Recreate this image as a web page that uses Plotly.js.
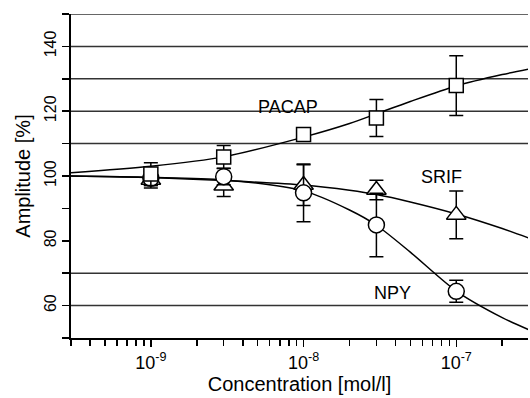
<!DOCTYPE html>
<html>
<head>
<meta charset="utf-8">
<script src="https://cdn.plot.ly/plotly-3.0.1.min.js"></script>
<style>html,body{margin:0;padding:0;background:#fff;}#chart{width:530px;height:398px;}</style>
</head>
<body>
<div id="chart"></div>
<script>
// Measured concentrations [mol/l]
const conc = [1e-9, 3e-9, 1e-8, 3e-8, 1e-7];
// Mean amplitudes [%] and error values
const pacap    = [100.6, 105.9, 112.8, 117.9, 127.9];
const pacapErr = [3.5, 3.5, 1.0, 5.7, 9.2];
const srif     = [98.8, 97.0, 97.2, 95.7, 88.0];
const srifErr  = [2.5, 3.3, 6.3, 3.0, 7.4];
const npy      = [99.3, 99.8, 94.8, 84.9, 64.4];
const npyErr   = [2.2, 2.5, 8.9, 9.8, 3.4];

// Fitted curves
const fitConc  = [3e-10, 1e-9, 3e-9, 1e-8, 2e-8, 3e-8, 5e-8, 1e-7, 2e-7, 3e-7];
const pacapFit = [101.0, 103.0, 105.9, 112.0, 116.2, 119.2, 123.0, 127.8, 131.3, 133.0];
const srifFit  = [100.0, 99.5, 98.6, 97.2, 95.6, 94.3, 92.0, 88.3, 83.8, 80.8];
const npyFit   = [100.0, 99.6, 98.8, 95.4, 89.5, 84.8, 76.5, 64.5, 56.3, 52.5];

// Axis ticks
const yTickVals  = [60, 80, 100, 120, 140];
const yTickText  = ['60', '80', '100', '120', '140'];
const yMinorVals = [50, 70, 90, 110, 130, 150];
const gridVals   = [60, 70, 110, 120, 130, 140, 150];
const xTickVals  = [1e-9, 1e-8, 1e-7];
const xTickText  = ['10<sup>-9</sup>', '10<sup>-8</sup>', '10<sup>-7</sup>'];
const xMinorVals = [3e-10, 4e-10, 5e-10, 6e-10, 7e-10, 8e-10, 9e-10,
                    2e-9, 3e-9, 4e-9, 5e-9, 6e-9, 7e-9, 8e-9, 9e-9,
                    2e-8, 3e-8, 4e-8, 5e-8, 6e-8, 7e-8, 8e-8, 9e-8,
                    2e-7];

// Curve labels
const labels = [
  {text: 'PACAP', x: 7.9e-9, y: 121.3},
  {text: 'SRIF',  x: 8.0e-8, y: 99.7},
  {text: 'NPY',   x: 3.8e-8, y: 63.9}
];

const FONT = 'Liberation Sans, Arial, sans-serif';

function fitTrace(y) {
  return {x: fitConc, y: y, mode: 'lines', type: 'scatter', hoverinfo: 'skip',
          line: {color: '#000', width: 1.5, shape: 'spline', smoothing: 0.8}};
}
function dataTrace(y, err, symbol, size) {
  return {x: conc, y: y, mode: 'markers', type: 'scatter',
          marker: {symbol: symbol, size: size, color: '#fff', line: {color: '#000', width: 1.5}},
          error_y: {type: 'data', array: err, visible: true, color: '#000', thickness: 1.5, width: 7}};
}

const data = [
  fitTrace(pacapFit), fitTrace(srifFit), fitTrace(npyFit),
  dataTrace(srif, srifErr, 'triangle-up', 17),
  dataTrace(npy, npyErr, 'circle', 16),
  dataTrace(pacap, pacapErr, 'square', 14)
];

const layout = {
  width: 530, height: 398,
  margin: {l: 71, r: 2, t: 14, b: 60},
  paper_bgcolor: '#fff', plot_bgcolor: '#fff',
  showlegend: false,
  font: {family: FONT, color: '#000'},
  xaxis: {
    type: 'log', range: [Math.log10(3e-10), Math.log10(2.95e-7)],
    tickmode: 'array', tickvals: xTickVals, ticktext: xTickText,
    ticks: 'outside', ticklen: 7, tickwidth: 1.5, tickcolor: '#000',
    minor: {tickmode: 'array', tickvals: xMinorVals, ticks: 'outside', ticklen: 6, tickwidth: 1.5, tickcolor: '#000', showgrid: false},
    showline: true, linecolor: '#000', linewidth: 2,
    showgrid: false, zeroline: false,
    tickfont: {family: FONT, size: 18, color: '#000'},
    title: {text: 'Concentration [mol/l]', font: {family: FONT, size: 20, color: '#000'}, standoff: 4}
  },
  yaxis: {
    range: [50, 150],
    tickmode: 'array', tickvals: yTickVals, ticktext: yTickText,
    ticks: 'outside', ticklen: 7, tickwidth: 1.5, tickcolor: '#000',
    minor: {tickmode: 'array', tickvals: yMinorVals, ticks: 'outside', ticklen: 7, tickwidth: 1.5, tickcolor: '#000', showgrid: false},
    tickangle: -90,
    showline: true, linecolor: '#000', linewidth: 2,
    showgrid: false, zeroline: false,
    tickfont: {family: FONT, size: 16, color: '#000'},
    title: {text: 'Amplitude [%]', font: {family: FONT, size: 20, color: '#000'}, standoff: 6}
  },
  shapes: gridVals.map(v => ({
    type: 'line', xref: 'paper', x0: 0, x1: 1, yref: 'y', y0: v, y1: v,
    layer: 'below', line: {color: '#333', width: 1.5}
  })),
  annotations: labels.map(l => ({
    text: l.text, x: Math.log10(l.x), y: l.y, xref: 'x', yref: 'y',
    showarrow: false, font: {family: FONT, size: 18, color: '#000'}
  }))
};

Plotly.newPlot('chart', data, layout, {staticPlot: true, displayModeBar: false});
</script>
</body>
</html>
